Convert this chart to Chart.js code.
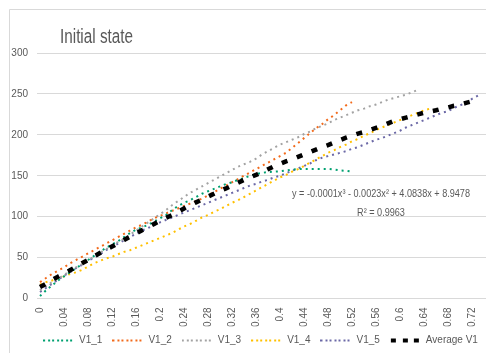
<!DOCTYPE html>
<html>
<head>
<meta charset="utf-8">
<script src="https://cdn.jsdelivr.net/npm/chart.js@4.4.0/dist/chart.umd.min.js"></script>
<style>
  html, body { margin: 0; padding: 0; background: #ffffff; overflow: hidden; width: 486px; height: 353px; }
  #wrap { position: absolute; left: 0; top: 0; width: 520px; height: 362px; }
  canvas { display: block; }
</style>
</head>
<body>
<div id="wrap"><canvas id="c" width="520" height="362" style="width:520px;height:362px"></canvas></div>
<script>
// ---- Data ----
const categories = [0,0.01,0.02,0.03,0.04,0.05,0.06,0.07,0.08,0.09,0.1,0.11,0.12,0.13,0.14,0.15,0.16,0.17,0.18,0.19,
  0.2,0.21,0.22,0.23,0.24,0.25,0.26,0.27,0.28,0.29,0.3,0.31,0.32,0.33,0.34,0.35,0.36,0.37,0.38,0.39,
  0.4,0.41,0.42,0.43,0.44,0.45,0.46,0.47,0.48,0.49,0.5,0.51,0.52,0.53,0.54,0.55,0.56,0.57,0.58,0.59,
  0.6,0.61,0.62,0.63,0.64,0.65,0.66,0.67,0.68,0.69,0.7,0.71,0.72,0.73,0.74];

const v1_1 = [3,10,16,22,27,32,37,42,47,52,57,62,66,70,75,80,84,87,90,94,
  98,102,108,113,117,120,124,128,131,134,137,140,142,145,147,150,152,153.5,154.5,155,
  155.5,156.5,157.5,158,158.4,158.4,158.4,158.4,158.4,157.5,156.5,156,155];

const v1_2 = [20,25,30,34,38,43,47,51,55,59,63,67,71,75,79,83,87,90,94,98,
  101,104,107,110,113,116,119,122,126,130,134,138,142,146,150,154,158,162,166,170,
  174,178,184,190,196,202,208,213,219,224,230,236,240];

const v1_3 = [10,15,20,24,29,33,38,42,47,51,56,60,65,69,73,78,83,88,93,98,
  103,108,114,119,124,129,133,137,141,145,149,153,157,161,164,167,171,176,180,184,
  188,191,194,197,201,204,208,211,214,218,221,224,227,230,232,235,237,240,243,245,
  247,249,252,255];

const v1_4 = [17,20,22,25,27,30,32,35,39,43,46,49,51,54,57,59,62,65,68,71,
  74,77,80,84,88,91,95,99,102,106,109,113,117,120,124,128,132,136,140,144,
  148,151,155,158,162,166,170,174,178,181,185,188,192,195,199,202,206,209,212,215,
  218,221,224,227,230,232];

const v1_5 = [8,13,18,23,28,32,37,41,46,50,54,59,63,67,71,75,79,83,86,90,
  93,96,99,102,105,108,111,114,117,120,123,126,129,132,135,138,140,143,145,148,
  150,153,156,159,162,165,169,172,174,176,178,180,183,185,188,191,194,196,199,202,
  205,209,212,215,218,221,224,227,229,233,236,239,244,248];

const averageV1 = [14,18,22.5,26.7,30.5,34.5,38.5,43,47,51.5,55.5,59.5,63.5,67.5,71.5,75.5,79.5,83.5,87,91,
  95,98.5,102,106,110,114,117.5,121,124.5,128,131.5,134.5,138,141.5,145,148,151,154.5,158,161.5,
  164.5,167.5,170,173,176,179,182,185,187.5,190.5,193.5,196.5,199,201.5,203.5,206,208.5,211,214,217,
  219,221,223,225,227,228.5,230,232,233.5,235.5,237,239,241,243];

const seriesNames = ['V1_1','V1_2','V1_3','V1_4','V1_5','Average V1'];
const yTicks = [0,50,100,150,200,250,300];
const titleText = 'Initial state';
const equationText = 'y = -0.0001x³ - 0.0023x² + 4.0838x + 8.9478';
const r2Text = 'R² = 0.9963';

// ---- Styles ----
const FONT = '"Liberation Sans", Arial, sans-serif';
const TXT = '#595959';
const colors = ['#00a070', '#f26a1b', '#a3a3a3', '#ffc000', '#6b68a6', '#000000'];
const dotDash = [2, 4];

function legendImg(i) {
  const c = document.createElement('canvas');
  c.width = 30; c.height = 6;
  const g = c.getContext('2d');
  g.fillStyle = colors[i];
  if (i === 5) {
    [1, 12.5, 24].forEach(x => g.fillRect(Math.round(x), 1, 5, 4));
  } else {
    for (let x = 0; x < 30; x += 4.5) g.fillRect(Math.round(x), 2, 2, 2);
  }
  return c;
}
const legendImgs = seriesNames.map((n, i) => legendImg(i));

const seriesData = [v1_1, v1_2, v1_3, v1_4, v1_5, averageV1];
const datasets = seriesNames.map((name, i) => ({
  label: name,
  data: seriesData[i],
  borderColor: colors[i],
  backgroundColor: colors[i],
  borderWidth: i === 5 ? 4.5 : 2,
  borderDash: i === 5 ? [6, 10] : dotDash,
  borderCapStyle: 'butt',
  pointRadius: 0,
  pointHoverRadius: 0,
  tension: 0,
  fill: false,
  order: i === 5 ? 0 : 1
}));

function drawFitted(ctx, text, x, y, sx) {
  ctx.save();
  ctx.translate(x, y);
  ctx.scale(sx, 1);
  ctx.fillText(text, 0, 0);
  ctx.restore();
}

const framePlugin = {
  id: 'frame',
  beforeDraw(chart) {
    const ctx = chart.ctx;
    ctx.save();
    ctx.fillStyle = '#ffffff';
    ctx.fillRect(0, 0, chart.width, chart.height);
    ctx.strokeStyle = '#d9d9d9';
    ctx.lineWidth = 1;
    ctx.beginPath();
    ctx.moveTo(9.5, chart.height);
    ctx.lineTo(9.5, 9.5);
    ctx.lineTo(chart.width, 9.5);
    ctx.stroke();
    ctx.restore();
  },
  afterDraw(chart) {
    const ctx = chart.ctx;
    ctx.save();
    ctx.fillStyle = TXT;
    // title
    ctx.textBaseline = 'alphabetic';
    ctx.textAlign = 'left';
    ctx.font = '20px ' + FONT;
    let w = ctx.measureText(titleText).width;
    drawFitted(ctx, titleText, 60, 43, 73 / w);
    // trendline label
    ctx.font = '11px ' + FONT;
    ctx.textAlign = 'center';
    ctx.textBaseline = 'middle';
    w = ctx.measureText(equationText).width;
    const s = 178 / w;
    drawFitted(ctx, equationText, 381, 194, s);
    drawFitted(ctx, r2Text, 381, 213, s);
    ctx.restore();
  }
};

new Chart(document.getElementById('c'), {
  type: 'line',
  data: { labels: categories.map(String), datasets },
  options: {
    responsive: false,
    animation: false,
    layout: { padding: { top: 53, right: 0, bottom: 6.5, left: 0 } },
    plugins: {
      title: { display: false },
      tooltip: { enabled: false },
      legend: {
        display: true,
        position: 'bottom',
        align: 'center',
        labels: {
          usePointStyle: true,
          pointStyleWidth: 32,
          boxHeight: 6,
          padding: 9,
          color: TXT,
          font: { family: FONT, size: 10 },
          sort: (a, b) => a.datasetIndex - b.datasetIndex,
          generateLabels(chart) {
            const items = Chart.defaults.plugins.legend.labels.generateLabels(chart);
            items.forEach(it => { it.pointStyle = legendImgs[it.datasetIndex]; it.lineWidth = 0; });
            return items;
          }
        }
      }
    },
    scales: {
      x: {
        type: 'category',
        offset: true,
        grid: { display: false, drawTicks: false },
        border: { display: false },
        ticks: {
          autoSkip: false,
          maxRotation: 90,
          minRotation: 90,
          padding: 9,
          color: TXT,
          font: { family: FONT, size: 10 },
          callback(val, idx) { return idx % 4 === 0 ? String(categories[idx]) : ''; }
        },
        afterFit(scale) { scale.height = 28; }
      },
      y: {
        min: yTicks[0],
        max: yTicks[yTicks.length - 1],
        afterBuildTicks(scale) { scale.ticks = yTicks.map(v => ({ value: v })); },
        grid: { color: '#d9d9d9', lineWidth: 1, drawTicks: false },
        border: { display: false },
        ticks: {
          padding: 9,
          color: TXT,
          font: { family: FONT, size: 10 }
        },
        afterFit(scale) { scale.width = 37; }
      },
      yRight: {
        type: 'linear',
        position: 'right',
        display: true,
        grid: { display: false, drawTicks: false },
        border: { display: false },
        ticks: { display: false },
        afterFit(scale) { scale.width = 33; }
      }
    }
  },
  plugins: [framePlugin]
});
</script>
</body>
</html>
